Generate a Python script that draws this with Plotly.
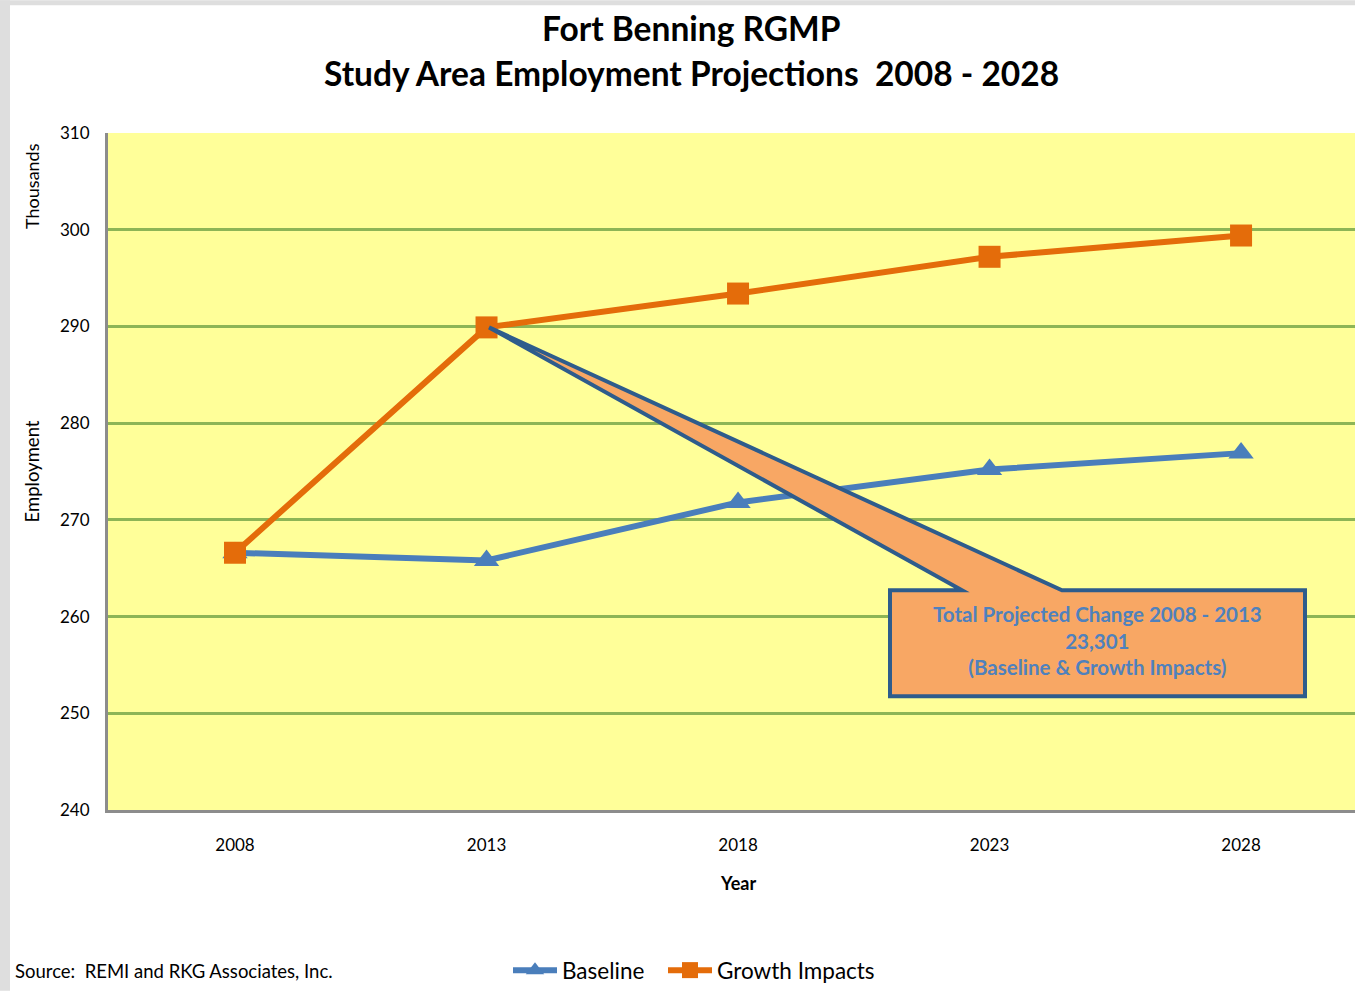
import plotly.graph_objects as go

years = ["2008", "2013", "2018", "2023", "2028"]
baseline = [266.6, 265.8, 271.8, 275.2, 276.9]
growth = [266.6, 289.9, 293.4, 297.2, 299.4]
callout_lines = ["Total Projected Change 2008 - 2013", "23,301", "(Baseline & Growth Impacts)"]

W, H = 1355, 992
L, R, T, B = 108, 0, 133, 181
pw, ph = W - L - R, H - T - B
xr = [-0.505, 4.453]
yr = [240, 310]

def px2x(p):
    return xr[0] + (p - L) / pw * (xr[1] - xr[0])

def py2y(p):
    return yr[0] + (T + ph - p) / ph * (yr[1] - yr[0])

def px2paper(p):
    return (p - L) / pw

def py2paper(p):
    return (T + ph - p) / ph

def x2paper(v):
    return (v - xr[0]) / (xr[1] - xr[0])

FONT = "Lato"

fig = go.Figure()
fig.add_trace(go.Scatter(
    x=years, y=baseline, name="Baseline", mode="lines+markers", legend="legend",
    line=dict(color="#4A7EBB", width=6),
    marker=dict(symbol="triangle-up", size=22, color="#4A7EBB"),
))
fig.add_trace(go.Scatter(
    x=years, y=growth, name="Growth Impacts", mode="lines+markers", legend="legend2",
    line=dict(color="#E46C0A", width=6),
    marker=dict(symbol="square", size=22, color="#E46C0A"),
))

tipx, tipy = 1 + 0.01, growth[1]
bx0, bx1 = px2x(890), px2x(1305)
by0, by1 = py2y(697), py2y(591)
wl, wr = px2x(962), px2x(1062)
path = (f"M {bx0},{by1} L {wl},{by1} L {tipx},{tipy} L {wr},{by1} "
        f"L {bx1},{by1} L {bx1},{by0} L {bx0},{by0} Z")

shapes = [
    dict(type="path", path=path, xref="x", yref="y",
         fillcolor="#F8A764", line=dict(color="#2E5C8C", width=4), layer="above"),
    dict(type="rect", xref="paper", yref="paper", x0=px2paper(0), x1=px2paper(10),
         y0=py2paper(H), y1=py2paper(0), fillcolor="#DEDEDE", line=dict(width=0), layer="below"),
    dict(type="rect", xref="paper", yref="paper", x0=px2paper(0), x1=px2paper(W),
         y0=py2paper(5), y1=py2paper(0), fillcolor="#DEDEDE", line=dict(width=0), layer="below"),
]

annotations = [
    dict(text="<b>Fort Benning RGMP</b>", xref="paper", yref="paper",
         x=px2paper(691), y=py2paper(28), showarrow=False, xanchor="center", yanchor="middle",
         font=dict(family=FONT, size=33.5, color="black")),
    dict(text="<b>Study Area Employment Projections  2008 - 2028</b>", xref="paper", yref="paper",
         x=px2paper(691), y=py2paper(73), showarrow=False, xanchor="center", yanchor="middle",
         font=dict(family=FONT, size=33.5, color="black")),
    dict(text="Thousands", xref="paper", yref="paper", x=px2paper(32), y=py2paper(186),
         showarrow=False, textangle=-90, xanchor="center", yanchor="middle",
         font=dict(family=FONT, size=18, color="black")),
    dict(text="<b>Year</b>", xref="paper", yref="paper", x=x2paper(years.index("2018")), y=py2paper(884),
         showarrow=False, xanchor="center", yanchor="middle",
         font=dict(family=FONT, size=18, color="black")),
    dict(text="Source:  REMI and RKG Associates, Inc.", xref="paper", yref="paper",
         x=px2paper(13), y=py2paper(972), showarrow=False, xanchor="left", yanchor="middle",
         font=dict(family=FONT, size=18.5, color="black")),
    dict(text="<b>" + "<br>".join(callout_lines) + "</b>", xref="x", yref="y",
         x=(bx0 + bx1) / 2, y=(by0 + by1) / 2 + 0.3, showarrow=False, xanchor="center", yanchor="middle",
         font=dict(family=FONT, size=20.5, color="#4F81BD"), align="center"),
]

legend_common = dict(orientation="h", yanchor="middle", xanchor="left",
                     font=dict(family=FONT, size=22.5, color="black"), itemwidth=44,
                     bgcolor="rgba(0,0,0,0)")

fig.update_layout(
    width=W, height=H,
    margin=dict(l=L, r=R, t=T, b=B, pad=0),
    paper_bgcolor="white", plot_bgcolor="#FFFF99",
    font=dict(family=FONT, color="black"),
    showlegend=True,
    legend=dict(x=px2paper(508), y=py2paper(972), **legend_common),
    legend2=dict(x=px2paper(663), y=py2paper(972), **legend_common),
    shapes=shapes,
    annotations=annotations,
    xaxis=dict(type="category", range=xr, showgrid=False, zeroline=False,
               showline=True, linecolor="#8C8C8C", linewidth=3,
               ticks="", ticklabelstandoff=18,
               tickfont=dict(family=FONT, size=17, color="black")),
    yaxis=dict(range=yr, dtick=10, showgrid=True, gridcolor="#8DB556", gridwidth=3,
               zeroline=False, showline=True, linecolor="#8C8C8C", linewidth=3,
               ticks="", ticklabelstandoff=12,
               tickfont=dict(family=FONT, size=17, color="black"),
               title=dict(text="Employment", standoff=16, font=dict(family=FONT, size=18.5, color="black"))),
)

fig.write_html("out.html", config={"displayModeBar": False},
               post_script="document.body.style.margin='0';document.body.style.overflow='hidden';")
